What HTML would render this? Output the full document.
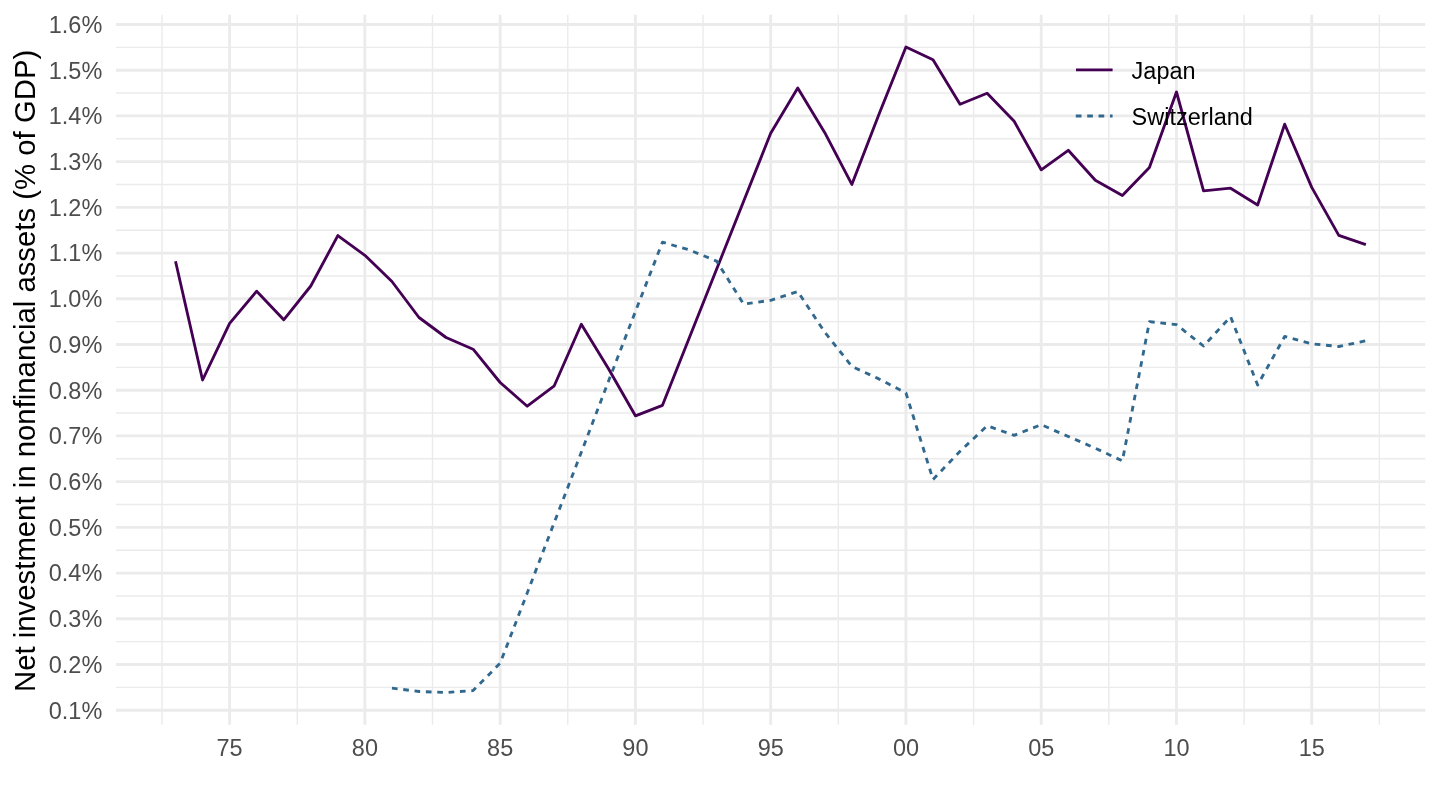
<!DOCTYPE html>
<html><head><meta charset="utf-8"><title>Net investment in nonfinancial assets</title>
<style>
html,body{margin:0;padding:0;background:#fff;}
body{width:1440px;height:810px;overflow:hidden;}
svg{display:block;}
.wrap{will-change:transform;width:1440px;height:810px;}
.mi{stroke:#EBEBEB;stroke-width:1.42;}
.ma{stroke:#EBEBEB;stroke-width:2.85;}
text{font-family:"Liberation Sans",Arial,Helvetica,sans-serif;}
.ay,.ax{font-size:23.47px;fill:#4D4D4D;}
.lg{font-size:23.47px;fill:#000;}
.tt{font-size:29.33px;fill:#000;}
</style></head>
<body>
<div class="wrap">
<svg width="1440" height="810" viewBox="0 0 1440 810">
<rect width="1440" height="810" fill="#fff"/>
<g>
<line x1="116" x2="1425.33" y1="687.34" y2="687.34" class="mi"/>
<line x1="116" x2="1425.33" y1="641.63" y2="641.63" class="mi"/>
<line x1="116" x2="1425.33" y1="595.92" y2="595.92" class="mi"/>
<line x1="116" x2="1425.33" y1="550.2" y2="550.2" class="mi"/>
<line x1="116" x2="1425.33" y1="504.49" y2="504.49" class="mi"/>
<line x1="116" x2="1425.33" y1="458.78" y2="458.78" class="mi"/>
<line x1="116" x2="1425.33" y1="413.07" y2="413.07" class="mi"/>
<line x1="116" x2="1425.33" y1="367.35" y2="367.35" class="mi"/>
<line x1="116" x2="1425.33" y1="321.64" y2="321.64" class="mi"/>
<line x1="116" x2="1425.33" y1="275.93" y2="275.93" class="mi"/>
<line x1="116" x2="1425.33" y1="230.21" y2="230.21" class="mi"/>
<line x1="116" x2="1425.33" y1="184.5" y2="184.5" class="mi"/>
<line x1="116" x2="1425.33" y1="138.79" y2="138.79" class="mi"/>
<line x1="116" x2="1425.33" y1="93.07" y2="93.07" class="mi"/>
<line x1="116" x2="1425.33" y1="47.36" y2="47.36" class="mi"/>
<line x1="161.99" x2="161.99" y1="14.67" y2="724.8" class="mi"/>
<line x1="297.26" x2="297.26" y1="14.67" y2="724.8" class="mi"/>
<line x1="432.52" x2="432.52" y1="14.67" y2="724.8" class="mi"/>
<line x1="567.79" x2="567.79" y1="14.67" y2="724.8" class="mi"/>
<line x1="703.05" x2="703.05" y1="14.67" y2="724.8" class="mi"/>
<line x1="838.32" x2="838.32" y1="14.67" y2="724.8" class="mi"/>
<line x1="973.58" x2="973.58" y1="14.67" y2="724.8" class="mi"/>
<line x1="1108.85" x2="1108.85" y1="14.67" y2="724.8" class="mi"/>
<line x1="1244.11" x2="1244.11" y1="14.67" y2="724.8" class="mi"/>
<line x1="1379.38" x2="1379.38" y1="14.67" y2="724.8" class="mi"/>
<line x1="116" x2="1425.33" y1="710.2" y2="710.2" class="ma"/>
<line x1="116" x2="1425.33" y1="664.49" y2="664.49" class="ma"/>
<line x1="116" x2="1425.33" y1="618.77" y2="618.77" class="ma"/>
<line x1="116" x2="1425.33" y1="573.06" y2="573.06" class="ma"/>
<line x1="116" x2="1425.33" y1="527.35" y2="527.35" class="ma"/>
<line x1="116" x2="1425.33" y1="481.64" y2="481.64" class="ma"/>
<line x1="116" x2="1425.33" y1="435.92" y2="435.92" class="ma"/>
<line x1="116" x2="1425.33" y1="390.21" y2="390.21" class="ma"/>
<line x1="116" x2="1425.33" y1="344.5" y2="344.5" class="ma"/>
<line x1="116" x2="1425.33" y1="298.78" y2="298.78" class="ma"/>
<line x1="116" x2="1425.33" y1="253.07" y2="253.07" class="ma"/>
<line x1="116" x2="1425.33" y1="207.36" y2="207.36" class="ma"/>
<line x1="116" x2="1425.33" y1="161.64" y2="161.64" class="ma"/>
<line x1="116" x2="1425.33" y1="115.93" y2="115.93" class="ma"/>
<line x1="116" x2="1425.33" y1="70.22" y2="70.22" class="ma"/>
<line x1="116" x2="1425.33" y1="24.51" y2="24.51" class="ma"/>
<line x1="229.62" x2="229.62" y1="14.67" y2="724.8" class="ma"/>
<line x1="364.89" x2="364.89" y1="14.67" y2="724.8" class="ma"/>
<line x1="500.15" x2="500.15" y1="14.67" y2="724.8" class="ma"/>
<line x1="635.42" x2="635.42" y1="14.67" y2="724.8" class="ma"/>
<line x1="770.68" x2="770.68" y1="14.67" y2="724.8" class="ma"/>
<line x1="905.95" x2="905.95" y1="14.67" y2="724.8" class="ma"/>
<line x1="1041.21" x2="1041.21" y1="14.67" y2="724.8" class="ma"/>
<line x1="1176.48" x2="1176.48" y1="14.67" y2="724.8" class="ma"/>
<line x1="1311.74" x2="1311.74" y1="14.67" y2="724.8" class="ma"/>
</g>
<path d="M175.52,261.3 L202.57,380 L229.62,323.3 L256.68,291.2 L283.73,319.8 L310.78,286 L337.83,235.6 L364.89,255.3 L391.94,281.5 L418.99,317.5 L446.05,337.5 L473.1,349.2 L500.15,382.5 L527.21,406.2 L554.26,385.8 L581.31,324.3 L608.36,368.5 L635.42,415.8 L662.47,405.3 L689.52,337.3 L716.58,269.3 L743.63,201.3 L770.68,133.3 L797.74,87.9 L824.79,132.7 L851.84,184.4 L878.89,114.5 L905.95,47 L933,59.8 L960.05,104.3 L987.11,93.2 L1014.16,121.3 L1041.21,169.8 L1068.27,150.3 L1095.32,180.3 L1122.37,195.5 L1149.42,167.5 L1176.48,92 L1203.53,190.9 L1230.58,188.2 L1257.64,205 L1284.69,124.2 L1311.74,187.4 L1338.8,235.4 L1365.85,244.7" fill="none" stroke="#440154" stroke-width="2.85" stroke-linejoin="round" stroke-linecap="butt"/>
<path d="M391.94,688.1 L418.99,691.5 L446.05,692.5 L473.1,690.6 L500.15,663.2 L527.21,593 L554.26,522.5 L581.31,452.3 L608.36,381.5 L635.42,311.5 L662.47,242.2 L689.52,250 L716.58,261.1 L743.63,304.1 L770.68,300.3 L797.74,291.5 L824.79,332.2 L851.84,366.4 L878.89,378.9 L905.95,393 L933,479.5 L960.05,451.3 L987.11,425.8 L1014.16,435.3 L1041.21,424.7 L1068.27,436.5 L1095.32,448.2 L1122.37,460.9 L1149.42,321.7 L1176.48,324.7 L1203.53,346 L1230.58,316.8 L1257.64,385 L1284.69,336.5 L1311.74,343.8 L1338.8,346.5 L1365.85,340.8" fill="none" stroke="#31688E" stroke-width="2.85" stroke-linejoin="round" stroke-linecap="butt" stroke-dasharray="5.69 5.69"/>
<text x="102.3" y="718.6" class="ay" text-anchor="end">0.1%</text>
<text x="102.3" y="672.89" class="ay" text-anchor="end">0.2%</text>
<text x="102.3" y="627.17" class="ay" text-anchor="end">0.3%</text>
<text x="102.3" y="581.46" class="ay" text-anchor="end">0.4%</text>
<text x="102.3" y="535.75" class="ay" text-anchor="end">0.5%</text>
<text x="102.3" y="490.04" class="ay" text-anchor="end">0.6%</text>
<text x="102.3" y="444.32" class="ay" text-anchor="end">0.7%</text>
<text x="102.3" y="398.61" class="ay" text-anchor="end">0.8%</text>
<text x="102.3" y="352.9" class="ay" text-anchor="end">0.9%</text>
<text x="102.3" y="307.18" class="ay" text-anchor="end">1.0%</text>
<text x="102.3" y="261.47" class="ay" text-anchor="end">1.1%</text>
<text x="102.3" y="215.76" class="ay" text-anchor="end">1.2%</text>
<text x="102.3" y="170.04" class="ay" text-anchor="end">1.3%</text>
<text x="102.3" y="124.33" class="ay" text-anchor="end">1.4%</text>
<text x="102.3" y="78.62" class="ay" text-anchor="end">1.5%</text>
<text x="102.3" y="32.91" class="ay" text-anchor="end">1.6%</text>
<text x="229.62" y="756.4" class="ax" text-anchor="middle">75</text>
<text x="364.89" y="756.4" class="ax" text-anchor="middle">80</text>
<text x="500.15" y="756.4" class="ax" text-anchor="middle">85</text>
<text x="635.42" y="756.4" class="ax" text-anchor="middle">90</text>
<text x="770.68" y="756.4" class="ax" text-anchor="middle">95</text>
<text x="905.95" y="756.4" class="ax" text-anchor="middle">00</text>
<text x="1041.21" y="756.4" class="ax" text-anchor="middle">05</text>
<text x="1176.48" y="756.4" class="ax" text-anchor="middle">10</text>
<text x="1311.74" y="756.4" class="ax" text-anchor="middle">15</text>
<text class="tt" text-anchor="middle" transform="translate(35.2,370.9) rotate(-90)">Net investment in nonfinancial assets (% of GDP)</text>
<line x1="1076" x2="1112.6" y1="69.9" y2="69.9" stroke="#440154" stroke-width="2.85"/>
<line x1="1075.8" x2="1112.6" y1="116" y2="116" stroke="#31688E" stroke-width="2.85" stroke-dasharray="5.69 5.69"/>
<text x="1131.6" y="78.9" class="lg">Japan</text>
<text x="1131.6" y="125.4" class="lg">Switzerland</text>
</svg>
</div>
</body></html>
